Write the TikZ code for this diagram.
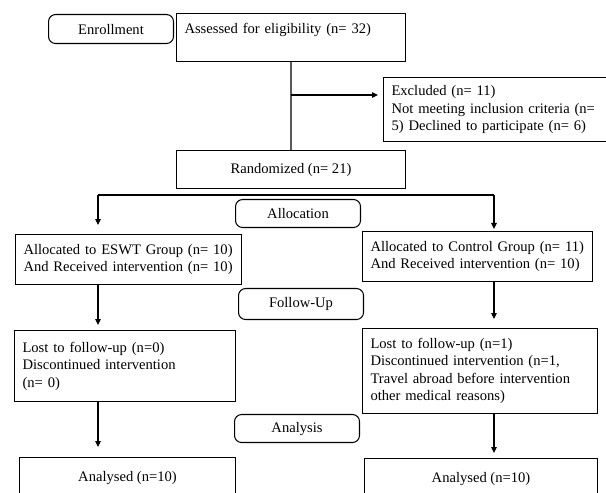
\documentclass[tikz,border=0pt]{standalone}
\usepackage{fontspec}
\setmainfont{Liberation Serif}
\usepackage{tikz}
\usetikzlibrary{arrows.meta}
\newcommand\boxfont{\fontsize{8.3}{10}\selectfont}
\tikzset{
  box/.style={
    draw, line width=.6pt, anchor=north west,
    inner xsep=.16cm, inner ysep=2pt, font=\boxfont
  },
  leftbox/.style={box,align=left},
  midbox/.style={box,align=center},
  stage/.style={midbox,rounded corners=4pt,minimum width=2.5cm},
  arr/.style={-{Triangle[length=1.2mm,width=1.1mm]},line width=.6pt}
}
\begin{document}
\begin{tikzpicture}[x=0.02cm,y=-0.02cm]
  \useasboundingbox (0,0) rectangle (606,493);
  \clip (0,0) rectangle (606,493);
  % stages
  \node[stage,minimum height=.58cm] (enrol) at (48,14) {Enrollment};
  \node[stage,minimum height=.56cm] (alloc) at (235,199) {Allocation};
  \node[stage,minimum height=.62cm] (follow) at (238,288) {Follow-Up};
  \node[stage,minimum height=.56cm] (anlys) at (234,414) {Analysis};
  % enrollment
  \node[leftbox,text width=4.26cm,minimum height=.96cm] (assess) at (176,13)
    {\mbox{Assessed for eligibility (n= 32)}\\ \mbox{}};
  \node[leftbox,text width=4.5cm,minimum height=1.28cm] (excl) at (383,77)
    {\mbox{Excluded (n= 11)}\\\mbox{Not meeting inclusion criteria (n=}\\\mbox{5) Declined to participate (n= 6)}};
  \node[midbox,minimum width=4.58cm,minimum height=.76cm] (rand) at (176,150) {Randomized (n= 21)};
  % groups
  \node[leftbox,text width=4.2cm,minimum height=1cm] (eswt) at (15,234)
    {\mbox{Allocated to ESWT Group (n= 10)}\\\mbox{And Received intervention (n= 10)}};
  \node[leftbox,text width=4.28cm,minimum height=1cm] (ctrl) at (362,231)
    {\mbox{Allocated to Control Group (n= 11)}\\\mbox{And Received intervention (n= 10)}};
  \node[leftbox,text width=4.1cm,minimum height=1.42cm] (lostL) at (14,330)
    {\mbox{Lost to follow-up (n=0)}\\\mbox{Discontinued intervention}\\\mbox{(n= 0)}};
  \node[leftbox,text width=4.38cm,minimum height=1.7cm] (lostR) at (362,328)
    {\mbox{Lost to follow-up (n=1)}\\\mbox{Discontinued intervention (n=1,}\\\mbox{Travel abroad before intervention}\\\mbox{other medical reasons)}};
  \node[midbox,minimum width=4.32cm,minimum height=.8cm] (anL) at (19,457) {Analysed (n=10)};
  \node[midbox,minimum width=4.66cm,minimum height=.8cm] (anR) at (364,458) {Analysed (n=10)};
  % connectors
  \coordinate (split) at (291,95);
  \coordinate (forkL) at (98,195);
  \coordinate (forkR) at (494,195);
  \draw[line width=.6pt] (assess) -- (rand);
  \draw[arr,shorten >=1mm] (split) -- (split -| excl.west);
  \draw[line width=.6pt] (forkL) -- (forkR);
  \draw[arr,shorten >=1.8mm] (forkL) -- (eswt.north -| forkL);
  \draw[arr,shorten >=.4mm] (forkR) -- (ctrl.north -| forkR);
  \draw[arr,shorten >=1mm] (eswt.south -| forkL) -- (lostL.north -| forkL);
  \draw[arr,shorten >=1.8mm] (ctrl.south -| forkR) -- (lostR.north -| forkR);
  \draw[arr,shorten >=2mm] (lostL.south -| forkL) -- (anL.north -| forkL);
  \draw[arr,shorten >=1mm] (lostR.south -| forkR) -- (anR.north -| forkR);
\end{tikzpicture}
\end{document}
